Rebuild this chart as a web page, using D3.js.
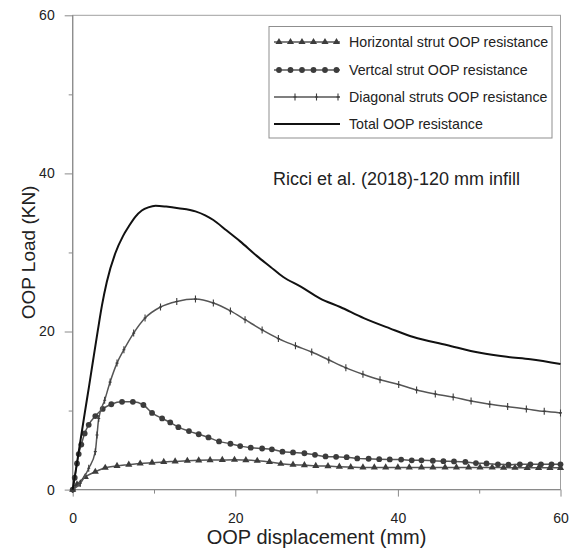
<!DOCTYPE html>
<html>
<head>
<meta charset="utf-8">
<script src="https://cdn.jsdelivr.net/npm/d3@7/dist/d3.min.js"></script>
<style>
  html, body { margin: 0; padding: 0; background: #fff; }
  svg { display: block; }
  text { font-family: "Liberation Sans", Arial, sans-serif; fill: #222; }
</style>
</head>
<body>
<svg id="chart" width="576" height="556"></svg>
<script>
// OOP load–displacement curves of the strut components and their total
const xMajorTicks = [0, 20, 40, 60];
const xMinorTicks = [10, 30, 50];
const yMajorTicks = [0, 20, 40, 60];
const yMinorTicks = [10, 30, 50];

const horizX = [0, 0.53, 1.55, 2.78, 4.0, 5.45, 6.9, 8.3, 9.76, 11.2, 12.6, 14.1, 15.5, 16.9, 18.4, 19.9, 21.3, 22.7, 24.2, 25.6, 27.1, 28.5, 29.9, 31.4, 32.8, 34.2, 35.7, 37.1, 38.5, 40.0, 41.4, 42.9, 44.3, 45.8, 47.2, 48.7, 50.1, 51.6, 53.0, 54.4, 55.9, 57.3, 58.7, 60];
const horizY = [0, 0.65, 1.6, 2.25, 2.76, 3.0, 3.15, 3.3, 3.4, 3.5, 3.57, 3.65, 3.7, 3.73, 3.75, 3.77, 3.73, 3.65, 3.5, 3.27, 3.15, 3.1, 3.0, 2.97, 2.9, 2.85, 2.8, 2.8, 2.8, 2.8, 2.8, 2.8, 2.8, 2.8, 2.8, 2.8, 2.8, 2.8, 2.78, 2.77, 2.75, 2.75, 2.75, 2.75];

const vertX = [0, 0.25, 0.53, 0.74, 1.06, 1.47, 1.97, 2.78, 3.69, 4.75, 6.07, 7.4, 8.7, 9.76, 11.0, 12.0, 13.0, 14.3, 15.5, 16.7, 18.0, 19.4, 20.6, 21.9, 23.3, 24.5, 25.8, 27.1, 28.5, 29.8, 31.1, 32.4, 33.7, 35.0, 36.4, 37.7, 39.0, 40.4, 41.7, 42.9, 44.3, 45.6, 46.9, 48.3, 49.6, 50.9, 52.3, 53.6, 55.0, 56.3, 57.6, 58.9, 60];
const vertY = [0, 1.5, 3.3, 4.5, 5.7, 7.1, 8.2, 9.3, 10.2, 10.8, 11.1, 11.1, 10.7, 9.7, 9.0, 8.5, 7.9, 7.4, 7.0, 6.6, 6.1, 5.8, 5.5, 5.3, 5.2, 5.1, 4.8, 4.7, 4.6, 4.4, 4.2, 4.15, 4.1, 3.95, 3.9, 3.85, 3.82, 3.8, 3.7, 3.7, 3.65, 3.6, 3.57, 3.5, 3.35, 3.3, 3.2, 3.15, 3.2, 3.2, 3.2, 3.2, 3.2];

const diagX = [0, 0.94, 1.97, 2.78, 2.99, 3.2, 3.93, 4.6, 5.45, 6.3, 7.5, 8.9, 10.8, 12.8, 15.1, 17.3, 19.4, 21.2, 23.3, 25.3, 27.4, 29.4, 31.5, 33.6, 35.7, 37.8, 40.1, 42.3, 44.6, 46.8, 49.0, 51.3, 53.5, 55.8, 58.0, 60];
const diagY = [0, 0.8, 2.7, 4.8, 6.9, 9.0, 11.3, 13.6, 16.0, 17.7, 19.8, 21.7, 23.1, 23.8, 24.1, 23.6, 22.6, 21.5, 20.2, 19.1, 18.2, 17.4, 16.4, 15.4, 14.6, 13.9, 13.3, 12.6, 12.1, 11.7, 11.2, 10.8, 10.5, 10.2, 9.9, 9.7];

const totalX = [0, 0.5, 1.0, 1.5, 2.0, 2.5, 3.1, 3.6, 4.2, 5.24, 6.2, 6.9, 7.7, 8.5, 9.3, 10.2, 11.5, 13.0, 15.1, 16.3, 17.3, 18.9, 20.6, 22.6, 24.3, 25.9, 28.0, 30.4, 32.9, 35.8, 39.0, 41.9, 46.0, 50.1, 53.4, 56.3, 60];
const totalY = [0, 3.2, 6.5, 9.8, 13.0, 16.3, 20.2, 23.3, 26.3, 29.9, 32.1, 33.3, 34.5, 35.3, 35.7, 35.9, 35.8, 35.6, 35.2, 34.7, 34.1, 32.8, 31.4, 29.6, 28.2, 26.9, 25.7, 24.2, 23.1, 21.7, 20.4, 19.3, 18.3, 17.3, 16.8, 16.5, 15.9];

const seriesNames = [
  "Horizontal strut OOP resistance",
  "Vertcal strut OOP resistance",
  "Diagonal struts OOP resistance",
  "Total OOP resistance"
];
const annotation = "Ricci et al. (2018)-120 mm infill";
const xTitle = "OOP displacement (mm)";
const yTitle = "OOP Load (KN)";

const zip = (xs, ys) => xs.map((v, i) => [v, ys[i]]);
const series = [
  { name: seriesNames[0], pts: zip(horizX, horizY), marker: "triangle" },
  { name: seriesNames[1], pts: zip(vertX, vertY), marker: "circle" },
  { name: seriesNames[2], pts: zip(diagX, diagY), marker: "tick" },
  { name: seriesNames[3], pts: zip(totalX, totalY), marker: "none" }
];

const svg = d3.select("#chart");
const plotLeft = 72.7, plotRight = 560.5, plotTop = 15.3, plotBottom = 489.6;
const x = d3.scaleLinear().domain([0, 60]).range([plotLeft, plotRight]);
const y = d3.scaleLinear().domain([0, 60]).range([plotBottom, plotTop]);

const axisColor = "#8a8a8a";
const seriesColor = "#555";
const markerColor = "#3c3c3c";

// plot frame
svg.append("rect")
  .attr("x", plotLeft).attr("y", plotTop)
  .attr("width", plotRight - plotLeft).attr("height", plotBottom - plotTop)
  .attr("fill", "none").attr("stroke", "#a0a0a0").attr("stroke-width", 1);

function styleAxis(g) {
  g.select(".domain").remove();
  g.selectAll(".tick line").attr("stroke", axisColor).attr("stroke-width", 1);
  g.selectAll(".tick text")
    .attr("font-family", "Liberation Sans, Arial, sans-serif")
    .attr("font-size", 14).attr("fill", "#222");
}

svg.append("g").attr("transform", `translate(0,${plotBottom})`)
  .call(d3.axisBottom(x).tickValues(xMajorTicks).tickSize(7).tickPadding(16).tickFormat(d3.format("d")))
  .call(styleAxis);
svg.append("g").attr("transform", `translate(0,${plotBottom})`)
  .call(d3.axisBottom(x).tickValues(xMinorTicks).tickSize(4).tickFormat(""))
  .call(styleAxis);
svg.append("g").attr("transform", `translate(${plotLeft},0)`)
  .call(d3.axisLeft(y).tickValues(yMajorTicks).tickSize(8).tickPadding(10).tickFormat(d3.format("d")))
  .call(styleAxis);
svg.append("g").attr("transform", `translate(${plotLeft},0)`)
  .call(d3.axisLeft(y).tickValues(yMinorTicks).tickSize(4).tickFormat(""))
  .call(styleAxis);

// axis lines on left and bottom
svg.append("line").attr("x1", plotLeft).attr("x2", plotLeft).attr("y1", plotTop).attr("y2", plotBottom)
  .attr("stroke", axisColor).attr("stroke-width", 1.2);
svg.append("line").attr("x1", plotLeft).attr("x2", plotRight).attr("y1", plotBottom).attr("y2", plotBottom)
  .attr("stroke", axisColor).attr("stroke-width", 1.2);

const line = d3.line().x(d => x(d[0])).y(d => y(d[1])).curve(d3.curveMonotoneX);

const triPath = d3.symbol().type(d3.symbolTriangle).size(22)();

function drawMarker(g, kind, cx, cy) {
  if (kind === "triangle") {
    g.append("path").attr("d", triPath).attr("transform", `translate(${cx},${cy})`)
      .attr("fill", markerColor);
  } else if (kind === "circle") {
    g.append("circle").attr("cx", cx).attr("cy", cy).attr("r", 2.9).attr("fill", markerColor);
  } else if (kind === "tick") {
    g.append("path").attr("d", `M${cx},${cy - 3.5}V${cy + 3.5}M${cx - 1.5},${cy}H${cx + 1.5}`)
      .attr("stroke", markerColor).attr("stroke-width", 1.1).attr("fill", "none");
  }
}

const plot = svg.append("g");
series.forEach(s => {
  const isTotal = s.marker === "none";
  plot.append("path").datum(s.pts).attr("d", line)
    .attr("fill", "none")
    .attr("stroke", isTotal ? "#111" : seriesColor)
    .attr("stroke-width", isTotal ? 2 : 1.5)
    .attr("stroke-linejoin", "round");
  if (!isTotal) {
    const mg = plot.append("g");
    s.pts.forEach(p => drawMarker(mg, s.marker, x(p[0]), y(p[1])));
  }
});

// legend
const lg = svg.append("g");
lg.append("rect").attr("x", 269).attr("y", 26.5).attr("width", 283).attr("height", 111.5)
  .attr("fill", "#fff").attr("stroke", "#8f8f8f").attr("stroke-width", 1);
const rowY = [42, 70, 97, 124];
const sampleX0 = 274, sampleX1 = 340;
series.forEach((s, i) => {
  const ry = rowY[i];
  const isTotal = s.marker === "none";
  lg.append("line").attr("x1", sampleX0).attr("x2", sampleX1).attr("y1", ry).attr("y2", ry)
    .attr("stroke", isTotal ? "#111" : seriesColor).attr("stroke-width", isTotal ? 2 : 1.5);
  if (s.marker === "triangle" || s.marker === "circle") {
    d3.range(6).forEach(k => drawMarker(lg, s.marker, 279 + k * 11.5, ry));
  } else if (s.marker === "tick") {
    [295, 316.5, 338].forEach(mx => drawMarker(lg, s.marker, mx, ry));
  }
  lg.append("text").attr("x", 349).attr("y", ry + 5)
    .attr("font-size", 14.2).text(s.name);
});

// annotation
svg.append("text").attr("x", 273).attr("y", 185)
  .attr("font-size", 18).text(annotation);

// axis titles
svg.append("text").attr("x", (plotLeft + plotRight) / 2).attr("y", 544)
  .attr("text-anchor", "middle").attr("font-size", 20).text(xTitle);
svg.append("text").attr("transform", `translate(35,${(plotTop + plotBottom) / 2}) rotate(-90)`)
  .attr("text-anchor", "middle").attr("font-size", 19).text(yTitle);
</script>
</body>
</html>
